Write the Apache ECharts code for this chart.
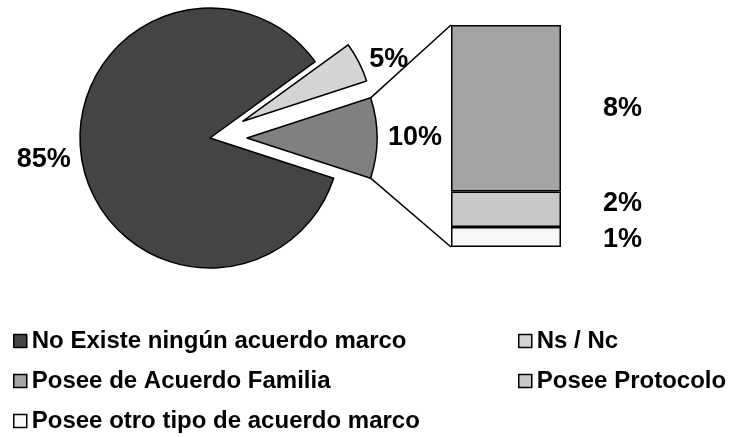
<!DOCTYPE html>
<html>
<head>
<meta charset="utf-8">
<script src="https://cdn.jsdelivr.net/npm/echarts@6/dist/echarts.min.js"></script>
<style>
  html, body { margin: 0; padding: 0; background: #fff; }
  #chart { width: 742px; height: 437px; }
</style>
</head>
<body>
<div id="chart"></div>
<script>
// pie part
const pieNames = ['No Existe ningún acuerdo marco', 'Ns / Nc', 'Otros']
const pieValues = [85, 5, 10]
const pieColors = ['#444444', '#d4d4d4', '#808080']
const pieExploded = [false, true, true]

// bar part (breakdown of "Otros"), top to bottom
const barNames = ['Posee de Acuerdo Familia', 'Posee Protocolo', 'Posee otro tipo de acuerdo marco']
const barValues = [7.5, 1.6, 0.9]
const barColors = ['#a4a4a4', '#c8c8c8', '#f8f8f8']

const FONT = 'Liberation Sans, Arial, sans-serif'
const PIE_CENTER = [210, 138]
const PIE_R = 130
const START_ANGLE = -18
const EXPLODE = 37
const GRID = { left: 451, top: 25, width: 110, height: 222 }

const chart = echarts.init(document.getElementById('chart'))

const barTotal = barValues.reduce((a, b) => a + b, 0)
const labelOffsets = [[0, 0], [0, -6], [0, 3]]

// stacked bar series, bottom segment first
const barSeries = barNames.map((name, i) => ({
  name: name,
  type: 'bar',
  stack: 'otros',
  barWidth: '100%',
  data: [barValues[i]],
  itemStyle: { color: barColors[i], borderColor: '#000', borderWidth: 1.5 },
  label: {
    show: true,
    position: 'right',
    distance: 42,
    offset: labelOffsets[i],
    formatter: p => Math.round(p.value) + '%',
    color: '#000',
    fontSize: 27,
    fontWeight: 'bold',
    fontFamily: FONT
  }
})).reverse()

const legendBase = {
  orient: 'vertical',
  top: 324,
  height: 120,
  itemGap: 16,
  icon: 'rect',
  itemWidth: 13,
  itemHeight: 13,
  itemStyle: { borderColor: '#000', borderWidth: 1.5 },
  selectedMode: false,
  textStyle: { fontSize: 24, fontWeight: 'bold', fontFamily: FONT, color: '#000' }
}

const option = {
  animation: false,
  grid: Object.assign({}, GRID),
  xAxis: { type: 'category', data: ['Otros'], show: false },
  yAxis: { type: 'value', min: 0, max: barTotal, show: false },
  legend: [
    Object.assign({}, legendBase, { left: 8, data: [pieNames[0], barNames[0], barNames[2]] }),
    Object.assign({}, legendBase, { left: 513, data: [pieNames[1], barNames[1]] })
  ],
  series: [
    {
      name: 'pie',
      type: 'pie',
      center: PIE_CENTER,
      radius: PIE_R,
      startAngle: START_ANGLE,
      clockwise: true,
      selectedMode: 'multiple',
      selectedOffset: EXPLODE,
      emphasis: { scale: false },
      itemStyle: { borderColor: '#000', borderWidth: 1.5 },
      label: {
        show: true,
        position: 'outside',
        formatter: p => p.value + '%',
        color: '#000',
        fontSize: 27,
        fontWeight: 'bold',
        fontFamily: FONT
      },
      labelLine: { show: false, length: 6, length2: 0 },
      data: pieNames.map((n, i) => ({
        name: n,
        value: pieValues[i],
        selected: pieExploded[i],
        itemStyle: { color: pieColors[i] }
      }))
    }
  ].concat(barSeries)
}

chart.setOption(option)

// connector lines from the exploded "Otros" slice to the bar
const pieSum = pieValues.reduce((a, b) => a + b, 0)
const otrosSpan = 360 * pieValues[2] / pieSum
const a0 = START_ANGLE
const a1 = START_ANGLE + otrosSpan
const mid = (a0 + a1) / 2 * Math.PI / 180
const cx = PIE_CENTER[0] + EXPLODE * Math.cos(mid)
const cy = PIE_CENTER[1] - EXPLODE * Math.sin(mid)
const corner = a => [cx + PIE_R * Math.cos(a * Math.PI / 180), cy - PIE_R * Math.sin(a * Math.PI / 180)]
const pTop = corner(a1)
const pBot = corner(a0)
const barTopY = chart.convertToPixel({ yAxisIndex: 0 }, barTotal)
const barBotY = chart.convertToPixel({ yAxisIndex: 0 }, 0)

chart.setOption({
  graphic: [
    { type: 'line', shape: { x1: pTop[0], y1: pTop[1], x2: GRID.left, y2: barTopY }, style: { stroke: '#000', lineWidth: 1.5 } },
    { type: 'line', shape: { x1: pBot[0], y1: pBot[1], x2: GRID.left, y2: barBotY }, style: { stroke: '#000', lineWidth: 1.5 } }
  ]
})
</script>
</body>
</html>
